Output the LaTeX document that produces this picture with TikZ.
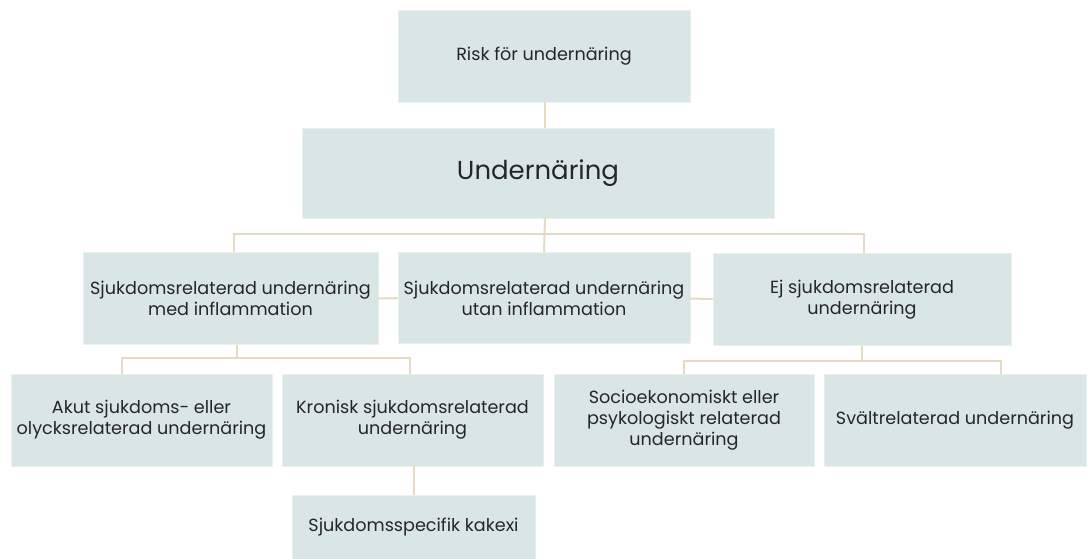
\documentclass[tikz,border=0pt]{standalone}
\usepackage{fontspec}
\setmainfont{Poppins}
\usepackage{tikz}
\usetikzlibrary{calc}
\definecolor{boxfill}{HTML}{DAE6E5}
\definecolor{boxedge}{HTML}{E9F1F0}
\definecolor{linktan}{HTML}{E8D9C2}

\begin{document}
\begin{tikzpicture}[x = 1pt, y = -1pt,
	box/.style = {fill = boxfill, draw = boxedge, line width = 0.8pt, inner sep = 0pt,
		align = center, font = \fontsize{17.6}{21}\selectfont, text = black!85},
	link/.style = {draw = linktan, line width = 2pt}]
	
	\useasboundingbox[fill = white] (0,0) rectangle (1091,558);
	
	\node[box, minimum width = 292, minimum height = 92] (risk) at (544,56) {Risk för undernäring};
	\node[box, minimum width = 472, minimum height = 90, font = \fontsize{26}{30}\selectfont] (undern) at (538,173) {Undernäring};
	
	\node[box, minimum width = 295, minimum height = 92] (medinfl) at (230.5,298.5) {Sjukdomsrelaterad undernäring\\med inflammation};
	\node[box, minimum width = 292, minimum height = 91] (utaninfl) at (544,298) {Sjukdomsrelaterad undernäring\\utan inflammation};
	\node[box, minimum width = 298, minimum height = 92] (ejsjuk) at (862,299.5) {Ej sjukdomsrelaterad\\undernäring};
	
	\node[box, minimum width = 261, minimum height = 92] (akut) at (141.5,420) {Akut sjukdoms- eller\\olycksrelaterad undernäring};
	\node[box, minimum width = 261, minimum height = 92] (kronisk) at (412.5,420) {Kronisk sjukdomsrelaterad\\undernäring};
	\node[box, minimum width = 260, minimum height = 92] (socio) at (684,420) {Socioekonomiskt eller\\psykologiskt relaterad\\undernäring};
	\node[box, minimum width = 262, minimum height = 92] (svalt) at (955,420) {Svältrelaterad undernäring};
	
	\node[box, minimum width = 243, minimum height = 64] (kakexi) at (413.5,527) {Sjukdomsspecifik kakexi};
	
	% top
	\draw[link] ([xshift = 7]undern.north |- risk.south) -- ([xshift = 7]undern.north);
	
	% second row
	\draw[link] ([xshift = 7]undern.south) -- (utaninfl.north);
	\draw[link] ([xshift = 3]medinfl.north) -- ++(0,-18) -| ([xshift = 2]ejsjuk.north);
	\draw[link] (medinfl) -- (utaninfl);
	\draw[link] (utaninfl) -- (ejsjuk);
	
	% third row
	\draw[link] ([xshift = 6]medinfl.south) -- ++(0,13) -| ([xshift = -20]akut.north);
	\draw[link] ([xshift = 6]medinfl.south) ++(0,13) -| ([xshift = -3]kronisk.north);
	\draw[link] (ejsjuk.south) -- ++(0,15) -| (socio.north);
	\draw[link] (ejsjuk.south) ++(0,15) -| ([xshift = 46]svalt.north);
	
	\draw[link] (kronisk.south -| kakexi.north) -- (kakexi.north);
\end{tikzpicture}
\end{document}
